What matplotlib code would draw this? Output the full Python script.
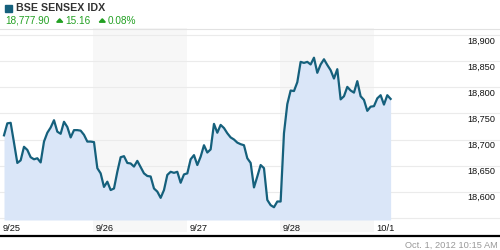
import matplotlib
matplotlib.use("Agg")
import matplotlib.pyplot as plt
from matplotlib.patches import Rectangle, Polygon
from matplotlib.lines import Line2D
import numpy as np

plt.rcParams['font.family'] = ['Liberation Sans', 'DejaVu Sans']

# intraday index level (one point every ~13 min)
sep_25 = [18708, 18731, 18732, 18694, 18655, 18660, 18686, 18680, 18666, 18662,
          18664, 18656, 18696, 18713, 18723, 18737, 18715, 18711, 18734, 18724,
          18704, 18718, 18718, 18717, 18709, 18696, 18696, 18695]
sep_26 = [18645, 18635, 18609, 18619, 18603, 18606, 18638, 18666, 18668, 18655,
          18654, 18648, 18659, 18647, 18635, 18630, 18629, 18606, 18600, 18588,
          18603, 18632, 18638, 18636, 18638, 18617, 18633, 18635]
sep_27 = [18662, 18670, 18651, 18667, 18689, 18675, 18681, 18730, 18713, 18728,
          18722, 18712, 18704, 18700, 18694, 18691, 18689, 18664, 18655, 18608,
          18629, 18651, 18645, 18584, 18574, 18570, 18581, 18581]
sep_28 = [18712, 18768, 18794, 18793, 18810, 18849, 18847, 18849, 18844, 18857,
          18828, 18844, 18854, 18843, 18833, 18817, 18835, 18777, 18783, 18801,
          18794, 18790, 18812, 18783, 18776, 18755, 18763, 18764]
oct_01 = [18779, 18785, 18767, 18785, 18777.90]

day_labels = ['9/25', '9/26', '9/27', '9/28', '10/1']
y_ticks = [18600, 18650, 18700, 18750, 18800, 18850, 18900]
grid_levels = [18550] + y_ticks

title = 'BSE SENSEX IDX'
last_price = '18,777.90'
change = '15.16'
change_pct = '0.08%'
stamp = 'Oct. 1, 2012 10:15 AM'

LINE = '#15607c'
FILL = '#dae6f8'
BAND = '#f7f7f7'
GREEN = '#22a022'

sensex = np.array(sep_25 + sep_26 + sep_27 + sep_28 + oct_01)
x = np.arange(len(sensex))
day_len = 28.05
first_day = -1.2
day_starts = [first_day + i * day_len for i in range(len(day_labels))]

W, H = 500, 250
fig = plt.figure(figsize=(5, 2.5), dpi=100)
fig.patch.set_facecolor('white')


def fx(px):
    return px / W


def fy(py):
    return 1 - py / H


ax = fig.add_axes([0, fy(220), 1, (220 - 28) / H])
ax.set_xlim(first_day, first_day + 500 / 3.333)
ax.set_ylim(18545.5, 18914)
ax.axis('off')

# shaded alternate days
for i in (1, 3):
    ax.axvspan(day_starts[i], day_starts[i] + day_len, ymin=-0.0625, ymax=1,
               color=BAND, lw=0, zorder=0, clip_on=False)

for v in grid_levels:
    ax.axhline(v, color='#ebebeb', lw=0.8, zorder=1)

ax.fill_between(x, sensex, 18545.5, color=FILL, lw=0, zorder=2)
ax.plot(x, sensex, color=LINE, lw=1.6, zorder=3, solid_joinstyle='round')

for v in y_ticks:
    ax.annotate(f'{v:,}', xy=(0.99, v), xycoords=('axes fraction', 'data'),
                xytext=(0, -1.2), textcoords='offset points',
                ha='right', va='top', fontsize=6.6, color='#111111')

for d, lab in zip(day_starts, day_labels):
    ax.annotate(lab, xy=(d, 0), xycoords=('data', 'axes fraction'),
                xytext=(1.6, -5.8), textcoords='offset points',
                ha='left', va='center', fontsize=6.7, color='#111111')

# header
fig.patches.append(Rectangle((fx(5), fy(11.5)), fx(6.5), 6.5 / H, color=LINE,
                             transform=fig.transFigure, figure=fig))
fig.text(fx(16), fy(8.3), title, fontsize=7.7, fontweight='bold',
         color='#333333', va='center', ha='left')
fig.text(fx(5.5), fy(20.6), last_price, fontsize=7.2, color=GREEN, va='center')
fig.text(fx(65), fy(20.6), change, fontsize=7.2, color=GREEN, va='center')
fig.text(fx(107.5), fy(20.6), change_pct, fontsize=7.2, color=GREEN, va='center')
for left in (56.7, 99.3):
    tri = Polygon([(fx(left), fy(22.2)), (fx(left + 6), fy(22.2)),
                   (fx(left + 3), fy(18.8))], closed=True, color=GREEN,
                  transform=fig.transFigure, figure=fig)
    fig.patches.append(tri)

fig.lines.append(Line2D([0, 1], [fy(29), fy(29)], color='#e2e2e2', lw=0.8,
                        transform=fig.transFigure, figure=fig))
fig.lines.append(Line2D([0, 1], [fy(235.6), fy(235.6)], color='black', lw=1.6,
                        transform=fig.transFigure, figure=fig))
fig.text(fx(498), fy(245), stamp, fontsize=6.7, color='#999999',
         ha='right', va='center')

fig.savefig('out.png', dpi=100, facecolor='white')
